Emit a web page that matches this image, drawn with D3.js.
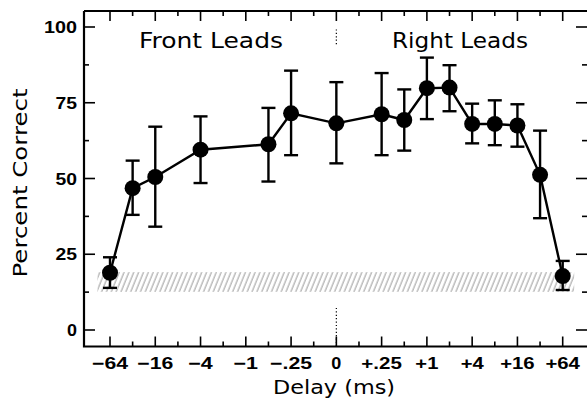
<!DOCTYPE html>
<html>
<head>
<meta charset="utf-8">
<script src="https://cdn.jsdelivr.net/npm/d3@7"></script>
<style>
  html, body { margin: 0; padding: 0; background: #fff; }
  svg { display: block; }
</style>
</head>
<body>
<svg id="chart" width="587" height="400"></svg>
<script>
// ---- data ----
const delays = [-64, -32, -16, -4, -0.5, -0.25, 0, 0.25, 0.5, 1, 2, 4, 8, 16, 32, 64];
const meanPct = [18.9, 46.8, 50.5, 59.5, 61.3, 71.5, 68.2, 71.2, 69.3, 79.8, 80.0, 68.0, 68.0, 67.5, 51.2, 17.8];
const upperPct = [24.0, 55.9, 67.1, 70.5, 73.3, 85.6, 81.8, 84.8, 79.4, 89.9, 87.4, 74.7, 75.8, 74.5, 65.8, 22.8];
const lowerPct = [13.9, 38.0, 34.1, 48.5, 49.0, 57.7, 55.0, 57.7, 59.2, 69.6, 72.2, 61.6, 61.0, 60.5, 36.9, 13.2];
const xTickValues = [-64, -16, -4, -1, -0.25, 0, 0.25, 1, 4, 16, 64];
const xTickLabels = ["\u221264", "\u221216", "\u22124", "\u22121", "\u2212.25", "0", "+.25", "+1", "+4", "+16", "+64"];
const xMinorValues = [-32, -8, -2, -0.5, -0.125, 0.125, 0.5, 2, 8, 32];
const yTickValues = [0, 25, 50, 75, 100];
const yTickLabels = ["0", "25", "50", "75", "100"];
const yMinorValues = [12.5, 37.5, 62.5, 87.5];
const chanceBand = [12.6, 19.1];
const regionLabels = ["Front Leads", "Right Leads"];

// ---- layout ----
const svg = d3.select("#chart");
const frame = { left: 84, right: 587, top: 11, bottom: 346.5 };

// position along log2 delay axis (symmetric about 0)
const pos = d => d === 0 ? 0 : Math.sign(d) * (Math.log2(Math.abs(d)) + 4);
const xs = d3.scaleLinear().domain([-10, 10]).range([110, 562.7]);
const x = d => xs(pos(d));
const y = d3.scaleLinear().domain([0, 100]).range([330, 27]);

// approximate wide (Hershey-like) label widths
const charW = { "\u2212": 13, "+": 11.5, ".": 4.5, " ": 6 };
const labelWidth = s => {
  let w = 0;
  for (const c of s) w += (charW[c] !== undefined ? charW[c] : 10);
  return w + 1.5 * (s.length - 1);
};

// hatch pattern
const defs = svg.append("defs");
const pat = defs.append("pattern")
  .attr("id", "hatch").attr("patternUnits", "userSpaceOnUse")
  .attr("width", 4.5).attr("height", 10)
  .attr("patternTransform", "rotate(22)");
pat.append("line").attr("x1", 1).attr("y1", 0).attr("x2", 1).attr("y2", 10)
  .attr("stroke", "#8a8a8a").attr("stroke-width", 0.9);

// chance band
svg.append("rect")
  .attr("x", x(-64) - 12.5).attr("width", (x(64) + 11.5) - (x(-64) - 12.5))
  .attr("y", y(chanceBand[1])).attr("height", y(chanceBand[0]) - y(chanceBand[1]))
  .attr("fill", "url(#hatch)");

// frame
svg.append("path")
  .attr("d", `M${frame.left},${frame.top}H${frame.right}M${frame.left},${frame.top}V${frame.bottom}H${frame.right}`)
  .attr("fill", "none").attr("stroke", "#000").attr("stroke-width", 2.2);

const tickG = svg.append("g").attr("stroke", "#000").attr("stroke-width", 1.6);
xTickValues.forEach(d => {
  tickG.append("line").attr("x1", x(d)).attr("x2", x(d)).attr("y1", frame.bottom).attr("y2", frame.bottom - 10);
  tickG.append("line").attr("x1", x(d)).attr("x2", x(d)).attr("y1", frame.top).attr("y2", frame.top + 10);
});
xMinorValues.forEach(d => {
  tickG.append("line").attr("x1", x(d)).attr("x2", x(d)).attr("y1", frame.bottom).attr("y2", frame.bottom - 5);
  tickG.append("line").attr("x1", x(d)).attr("x2", x(d)).attr("y1", frame.top).attr("y2", frame.top + 5);
});
yTickValues.forEach(v => {
  tickG.append("line").attr("x1", frame.left).attr("x2", frame.left + 11).attr("y1", y(v)).attr("y2", y(v));
  tickG.append("line").attr("x1", frame.right).attr("x2", frame.right - 11).attr("y1", y(v)).attr("y2", y(v));
});
yMinorValues.forEach(v => {
  tickG.append("line").attr("x1", frame.left).attr("x2", frame.left + 5).attr("y1", y(v)).attr("y2", y(v));
  tickG.append("line").attr("x1", frame.right).attr("x2", frame.right - 5).attr("y1", y(v)).attr("y2", y(v));
});

// tick labels
svg.append("g").selectAll("text").data(xTickValues).join("text")
  .attr("x", d => x(d)).attr("y", 369)
  .attr("text-anchor", "middle")
  .attr("font-family", "Liberation Sans, Arial, sans-serif")
  .attr("font-weight", "bold").attr("font-size", 16.5)
  .attr("textLength", (d, i) => labelWidth(xTickLabels[i]))
  .attr("lengthAdjust", "spacingAndGlyphs")
  .text((d, i) => xTickLabels[i]);
svg.append("g").selectAll("text").data(yTickValues).join("text")
  .attr("x", 77).attr("y", v => y(v) + 6)
  .attr("text-anchor", "end")
  .attr("font-family", "Liberation Sans, Arial, sans-serif")
  .attr("font-weight", "bold").attr("font-size", 17)
  .attr("textLength", (d, i) => labelWidth(yTickLabels[i]))
  .attr("lengthAdjust", "spacingAndGlyphs")
  .text((d, i) => yTickLabels[i]);

// dotted zero line
const dz = svg.append("g").attr("stroke", "#000").attr("stroke-width", 1.2).attr("stroke-dasharray", "1.2,2.2");
dz.append("line").attr("x1", x(0)).attr("x2", x(0)).attr("y1", y(99.2)).attr("y2", y(93.6));
dz.append("line").attr("x1", x(0)).attr("x2", x(0)).attr("y1", y(7.3)).attr("y2", frame.bottom);

// region labels
const regionX = [211, 460], regionW = [144, 136];
svg.append("g").selectAll("text").data(regionLabels).join("text")
  .attr("x", (d, i) => regionX[i]).attr("y", 48)
  .attr("text-anchor", "middle")
  .attr("font-family", "DejaVu Sans, sans-serif").attr("font-size", 21)
  .attr("textLength", (d, i) => regionW[i]).attr("lengthAdjust", "spacingAndGlyphs")
  .text(d => d);

// axis titles
svg.append("text").attr("x", 334).attr("y", 394).attr("text-anchor", "middle")
  .attr("font-family", "DejaVu Sans, sans-serif").attr("font-size", 20)
  .attr("textLength", 122).attr("lengthAdjust", "spacingAndGlyphs").text("Delay (ms)");
svg.append("text").attr("transform", "translate(27,183) rotate(-90)").attr("text-anchor", "middle")
  .attr("font-family", "DejaVu Sans, sans-serif").attr("font-size", 20)
  .attr("textLength", 189).attr("lengthAdjust", "spacingAndGlyphs").text("Percent Correct");

// data
const pts = delays.map((d, i) => ({ d, m: meanPct[i], hi: upperPct[i], lo: lowerPct[i] }));
const eb = svg.append("g").attr("stroke", "#000").attr("stroke-width", 2.4);
pts.forEach(p => {
  eb.append("line").attr("x1", x(p.d)).attr("x2", x(p.d)).attr("y1", y(p.hi)).attr("y2", y(p.lo));
  eb.append("line").attr("x1", x(p.d) - 7).attr("x2", x(p.d) + 7).attr("y1", y(p.hi)).attr("y2", y(p.hi));
  eb.append("line").attr("x1", x(p.d) - 7).attr("x2", x(p.d) + 7).attr("y1", y(p.lo)).attr("y2", y(p.lo));
});
svg.append("path").datum(pts)
  .attr("d", d3.line().x(p => x(p.d)).y(p => y(p.m)))
  .attr("fill", "none").attr("stroke", "#000").attr("stroke-width", 2.4);
svg.append("g").selectAll("circle").data(pts).join("circle")
  .attr("cx", p => x(p.d)).attr("cy", p => y(p.m)).attr("r", 8).attr("fill", "#000");
</script>
</body>
</html>
